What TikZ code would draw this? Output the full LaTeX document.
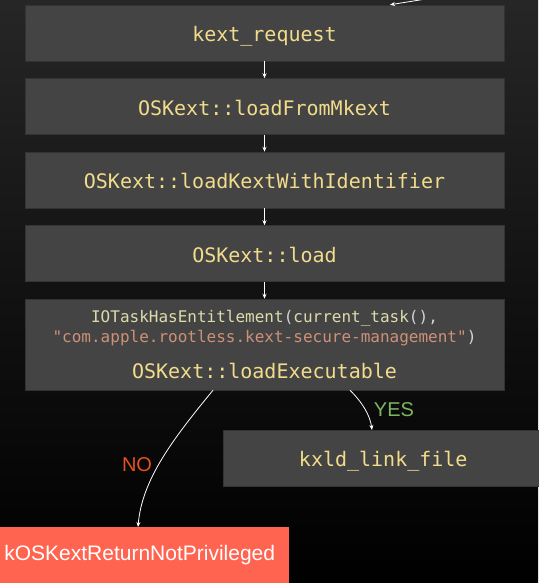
\documentclass[tikz,border=0pt]{standalone}
\usepackage{fontspec}
\setmainfont{Liberation Sans}
\setmonofont{DejaVu Sans Mono}
\usetikzlibrary{arrows.meta, positioning}

\definecolor{boxgray}{HTML}{444444}
\definecolor{codeyellow}{HTML}{F2DC8C}
\definecolor{fnyellow}{HTML}{DCDCAA}
\definecolor{strorange}{HTML}{CE9178}
\definecolor{plaingray}{HTML}{D4D4D4}
\definecolor{errred}{HTML}{FF6450}
\definecolor{nored}{HTML}{E4511E}
\definecolor{yesgreen}{HTML}{7DB561}

\begin{document}
\begin{tikzpicture}[
    x=1pt, y=1pt,
    node distance=17pt,
    box/.style={rectangle, fill=boxgray, draw=black!80, line width=0.5pt, minimum width=479pt, minimum height=56pt, align=center, inner sep=0pt, font=\ttfamily\fontsize{20}{24}\selectfont, text=codeyellow},
    codebox/.style={box, text height=17pt, text depth=0pt},
    arrow/.style={-{Stealth[length=5pt, width=4pt]}, draw=white, line width=0.8pt},
    lbl/.style={font=\fontsize{20}{24}\selectfont}
]

% background
\shade[top color=black!85, bottom color=black, middle color=black!93] (0,0) rectangle (538,-583);
\useasboundingbox (0,0) rectangle (538,-583);

% Main flow
\node[codebox] (request) at (264.5,-33) {kext\_request};
\node[codebox, below=of request] (mkext) {OSKext::loadFromMkext};
\node[codebox, below=of mkext] (ident) {OSKext::loadKextWithIdentifier};
\node[codebox, below=of ident] (load) {OSKext::load};
\node[box, below=of load, minimum height=91pt, text depth=-9pt] (exec) {%
    {\fontsize{16}{19}\selectfont\color{fnyellow}IOTaskHasEntitlement\textcolor{plaingray}{(}current\_task\textcolor{plaingray}{(),}}\\[-4pt]
    {\fontsize{16}{19}\selectfont\color{strorange}"com.apple.rootless.kext-secure-management"\textcolor{plaingray}{)}}\\[12pt]
    OSKext::loadExecutable};

% Outcomes
\node[codebox, minimum width=320pt, anchor=north west] (link) at (223,-430) {kxld\_link\_file};
\node[rectangle, fill=errred, minimum width=289pt, minimum height=56pt, inner sep=0pt, anchor=north west,
      font=\fontsize{21}{25}\selectfont, text=white] (priv) at (0,-527) {\hspace*{-10pt}kOSKextReturnNotPrivileged};
\coordinate (caller) at (426,1);

% Arrows
\draw[arrow] (caller) -- (request.north -| 390,0);
\draw[arrow] (request) -- (mkext);
\draw[arrow] (mkext) -- (ident);
\draw[arrow] (ident) -- (load);
\draw[arrow] (load) -- (exec);
\draw[arrow] (exec.south -| 213,0) .. controls (172,-440) and (142,-480) .. (priv.north -| 138,0);
\draw[arrow] (exec.south -| 350,0) .. controls (362,-402) and (370,-415) .. (link.north -| 372,0);

% Labels
\node[lbl, text=nored] (no) at (137,-465) {NO};
\node[lbl, text=yesgreen] (yes) at (394,-410) {YES};

\end{tikzpicture}
\end{document}
